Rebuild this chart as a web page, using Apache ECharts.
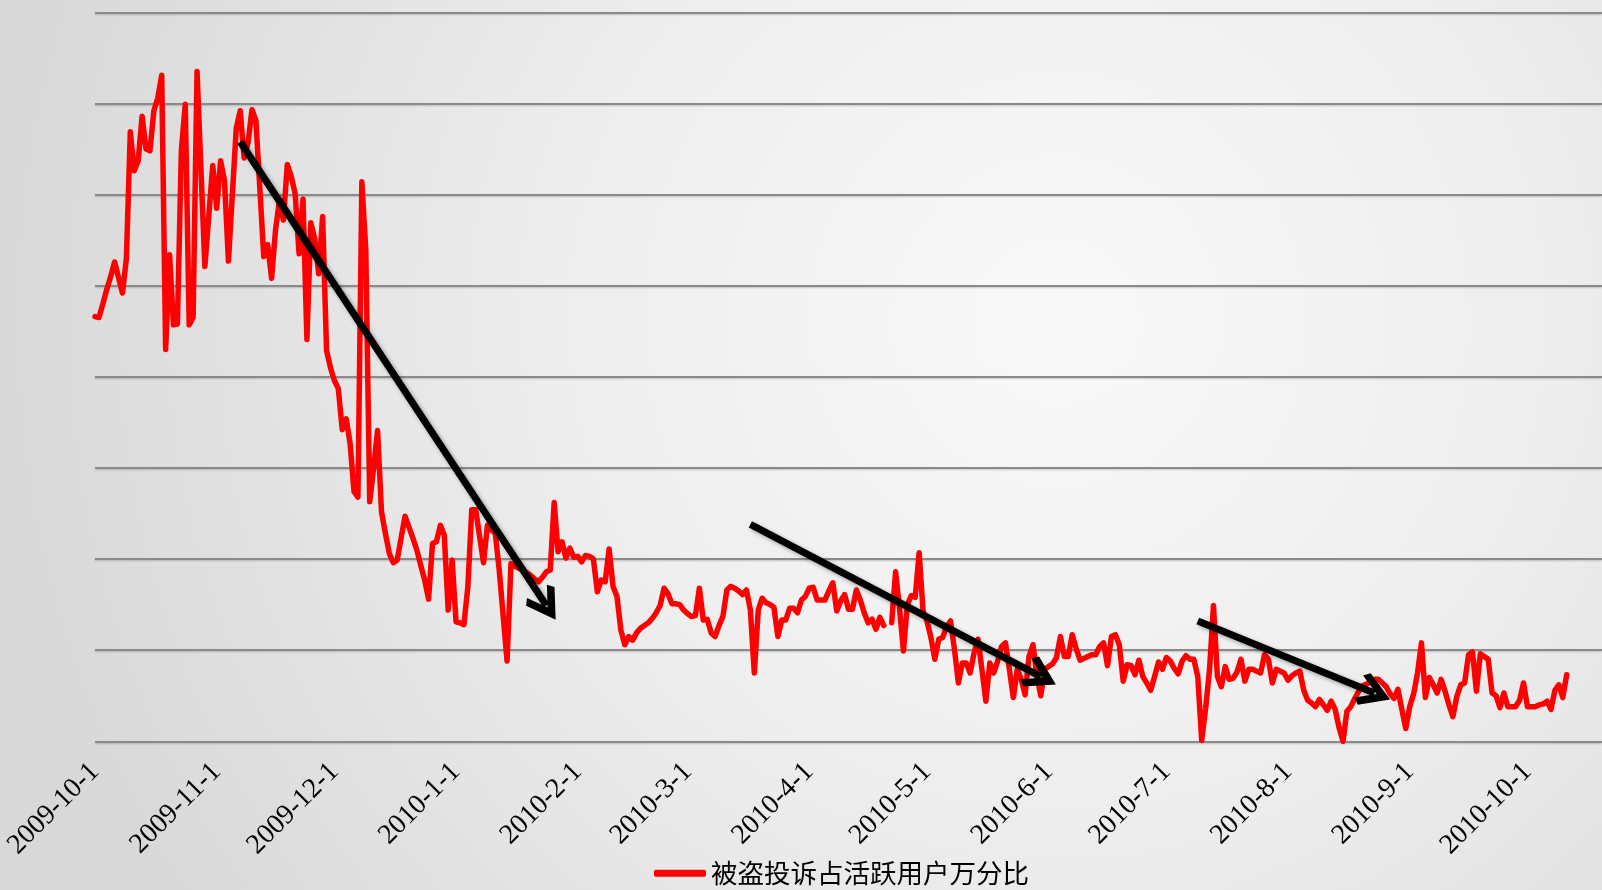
<!DOCTYPE html>
<html>
<head>
<meta charset="utf-8">
<title>被盗投诉占活跃用户万分比</title>
<script src="https://cdn.jsdelivr.net/npm/echarts@6.0.0/dist/echarts.min.js"></script>
<style>
    html, body { margin: 0; padding: 0; }
    #main { width: 1602px; height: 890px; }
</style>
</head>
<body>
<div id="main"></div>
<script>
var seriesName = '被盗投诉占活跃用户万分比';

// 日期轴：从 2009-10-1 起按天排列，右侧留几天空白
var startDate = [2009, 10, 1];
var dayCount = 385;

// 显示的刻度标签（每月1日）
var monthTicks = ['2009-10-1', '2009-11-1', '2009-12-1', '2010-1-1', '2010-2-1', '2010-3-1',
    '2010-4-1', '2010-5-1', '2010-6-1', '2010-7-1', '2010-8-1', '2010-9-1', '2010-10-1'];

// 每日数值（按网格刻度读取，0~8）
var ratio = [
    // 2009-10
    4.66, 4.65, 4.80, 4.96, 5.10, 5.26, 5.09, 4.92, 5.30, 6.69,
    6.26, 6.37, 6.86, 6.50, 6.48, 6.92, 7.06, 7.31, 4.30, 5.34,
    4.57, 4.58, 6.48, 6.99, 4.57, 4.65, 7.35, 6.28, 5.21, 5.77,
    6.32,
    // 2009-11
    5.85, 6.37, 6.15, 5.27, 6.00, 6.73, 6.92, 6.40, 6.57, 6.93,
    6.81, 6.07, 5.32, 5.45, 5.08, 5.61, 5.94, 5.72, 6.33, 6.20,
    6.01, 5.35, 5.95, 4.41, 5.69, 5.51, 5.13, 5.76, 4.29, 4.10,
    // 2009-12
    3.96, 3.87, 3.42, 3.54, 3.27, 2.74, 2.68, 6.14, 5.39, 2.63,
    3.00, 3.41, 2.52, 2.28, 2.06, 1.96, 1.99, 2.23, 2.47, 2.35,
    2.23, 2.10, 1.93, 1.77, 1.56, 2.17, 2.19, 2.37, 2.26, 1.44,
    1.99,
    // 2010-1
    1.31, 1.30, 1.28, 1.69, 2.54, 2.54, 2.25, 1.96, 2.37, 2.32,
    2.28, 1.88, 1.38, 0.88, 1.95, 1.92, 1.90, 1.88, 1.85, 1.82,
    1.78, 1.75, 1.80, 1.86, 1.88, 2.62, 2.08, 2.19, 2.01, 2.12,
    2.02,
    // 2010-2
    2.03, 1.97, 2.04, 2.03, 2.00, 1.64, 1.77, 1.75, 2.11, 1.70,
    1.59, 1.22, 1.06, 1.15, 1.11, 1.19, 1.24, 1.27, 1.30, 1.35,
    1.41, 1.49, 1.68, 1.62, 1.51, 1.51, 1.50, 1.44,
    // 2010-3
    1.40, 1.37, 1.38, 1.68, 1.33, 1.34, 1.19, 1.15, 1.27, 1.37,
    1.66, 1.70, 1.68, 1.65, 1.61, 1.66, 1.44, 0.75, 1.44, 1.57,
    1.52, 1.50, 1.47, 1.15, 1.33, 1.33, 1.46, 1.46, 1.41, 1.55,
    1.59,
    // 2010-4
    1.68, 1.69, 1.55, 1.55, 1.55, 1.65, 1.74, 1.43, 1.54, 1.61,
    1.45, 1.45, 1.66, 1.55, 1.41, 1.30, 1.34, 1.23, 1.36, 1.27,
    null, 1.30, 1.86, 1.46, 0.99, 1.50, 1.60, 1.58, 2.07, 1.43,
    // 2010-5
    1.32, 1.14, 0.90, 1.12, 1.14, 1.26, 1.32, 1.01, 0.64, 0.86,
    0.86, 0.75, 0.97, 1.12, 0.79, 0.44, 0.86, 0.75, 0.88, 1.04,
    1.08, 0.79, 0.48, 0.79, 0.68, 0.51, 0.93, 1.06, 0.72, 0.50,
    0.79,
    // 2010-6
    0.82, 0.85, 0.92, 1.15, 0.93, 0.93, 1.17, 1.02, 0.89, 0.91,
    0.93, 0.95, 0.95, 1.04, 1.08, 0.83, 1.15, 1.17, 1.06, 0.66,
    0.84, 0.83, 0.73, 0.89, 0.71, 0.64, 0.56, 0.71, 0.87, 0.79,
    // 2010-7
    0.92, 0.88, 0.80, 0.74, 0.88, 0.94, 0.90, 0.90, 0.71, 0.01,
    0.36, 0.79, 1.49, 0.71, 0.60, 0.82, 0.68, 0.69, 0.76, 0.90,
    0.66, 0.79, 0.79, 0.77, 0.75, 0.95, 0.90, 0.64, 0.79, 0.77,
    0.75,
    // 2010-8
    0.67, 0.72, 0.75, 0.77, 0.56, 0.45, 0.42, 0.38, 0.46, 0.40,
    0.34, 0.44, 0.35, 0.15, 0.00, 0.33, 0.38, 0.47, 0.55, 0.61,
    0.63, 0.65, 0.68, 0.68, 0.64, 0.60, 0.52, 0.47, 0.57, 0.35,
    0.14,
    // 2010-9
    0.38, 0.52, 0.75, 1.08, 0.48, 0.70, 0.62, 0.53, 0.68, 0.55,
    0.40, 0.27, 0.49, 0.62, 0.64, 0.95, 0.98, 0.55, 0.96, 0.93,
    0.90, 0.53, 0.50, 0.37, 0.53, 0.38, 0.38, 0.38, 0.45, 0.64,
    // 2010-10
    0.38, 0.38, 0.38, 0.40, 0.41, 0.44, 0.35, 0.56, 0.62, 0.48,
    0.73
];

// 趋势箭头：[起点日序, 起点值, 终点日序, 终点值]
var arrows = [
    [37, 6.58, 115, 1.49],
    [167, 2.38, 241, 0.71],
    [281, 1.32, 326, 0.53]
];

function getDays() {
    let arr = [];
    for (let i = 0; i < dayCount; i++) {
        let d = new Date(Date.UTC(startDate[0], startDate[1] - 1, startDate[2] + i));
        arr.push(d.getUTCFullYear() + '-' + (d.getUTCMonth() + 1) + '-' + d.getUTCDate());
    }
    return arr;
}

// 箭头头部（开口的 V 形）
var arrowHead = 'path://M50,0 L100,82 L85,100 L50,43 L15,100 L0,82 Z';

var myChart = echarts.init(document.getElementById('main'));

var option = {
    animation: false,
    backgroundColor: new echarts.graphic.RadialGradient(0.66, 0.36, 1.2, [
        { offset: 0, color: '#f9f9f9' },
        { offset: 0.45, color: '#eeeeee' },
        { offset: 1, color: '#d8d8d8' }
    ]),
    grid: {
        left: 95,
        right: 0,
        top: 12.3,
        bottom: 148.7,
        containLabel: false,
        outerBoundsMode: 'none'
    },
    legend: {
        data: [seriesName],
        left: 654,
        top: 860,
        padding: 0,
        icon: 'roundRect',
        itemWidth: 52,
        itemHeight: 7,
        textStyle: {
            fontFamily: 'Noto Sans CJK SC',
            fontSize: 26.5,
            color: '#000'
        }
    },
    xAxis: {
        type: 'category',
        boundaryGap: false,
        data: getDays(),
        axisLine: { show: false },
        axisTick: { show: false },
        splitLine: { show: false },
        axisLabel: {
            interval: function (index, value) {
                return monthTicks.indexOf(value) !== -1;
            },
            rotate: 45,
            margin: 26,
            fontFamily: 'Liberation Serif',
            fontSize: 28,
            color: '#000'
        }
    },
    yAxis: {
        type: 'value',
        min: 0,
        max: 8,
        interval: 1,
        axisLine: { show: false },
        axisTick: { show: false },
        axisLabel: { show: false },
        splitLine: {
            lineStyle: {
                color: '#8a8a8a',
                width: 2,
                shadowColor: 'rgba(0,0,0,0.2)',
                shadowBlur: 2,
                shadowOffsetY: 1
            }
        }
    },
    series: [{
        name: seriesName,
        type: 'line',
        data: ratio,
        symbol: 'none',
        showSymbol: false,
        itemStyle: { color: '#ff0000' },
        lineStyle: { color: '#ff0000', width: 5.5, join: 'round', cap: 'round' },
        markLine: {
            silent: true,
            animation: false,
            symbol: ['none', arrowHead],
            symbolSize: 34,
            label: { show: false },
            emphasis: { disabled: true },
            lineStyle: {
                color: '#000',
                width: 7,
                type: 'solid',
                shadowColor: 'rgba(0,0,0,0.35)',
                shadowBlur: 4,
                shadowOffsetX: 2,
                shadowOffsetY: 2
            },
            data: arrows.map(function (a) {
                return [{ coord: [a[0], a[1]] }, { coord: [a[2], a[3]] }];
            })
        }
    }]
};

myChart.setOption(option);
window.addEventListener('resize', function () {
    myChart.resize();
});
</script>
</body>
</html>
